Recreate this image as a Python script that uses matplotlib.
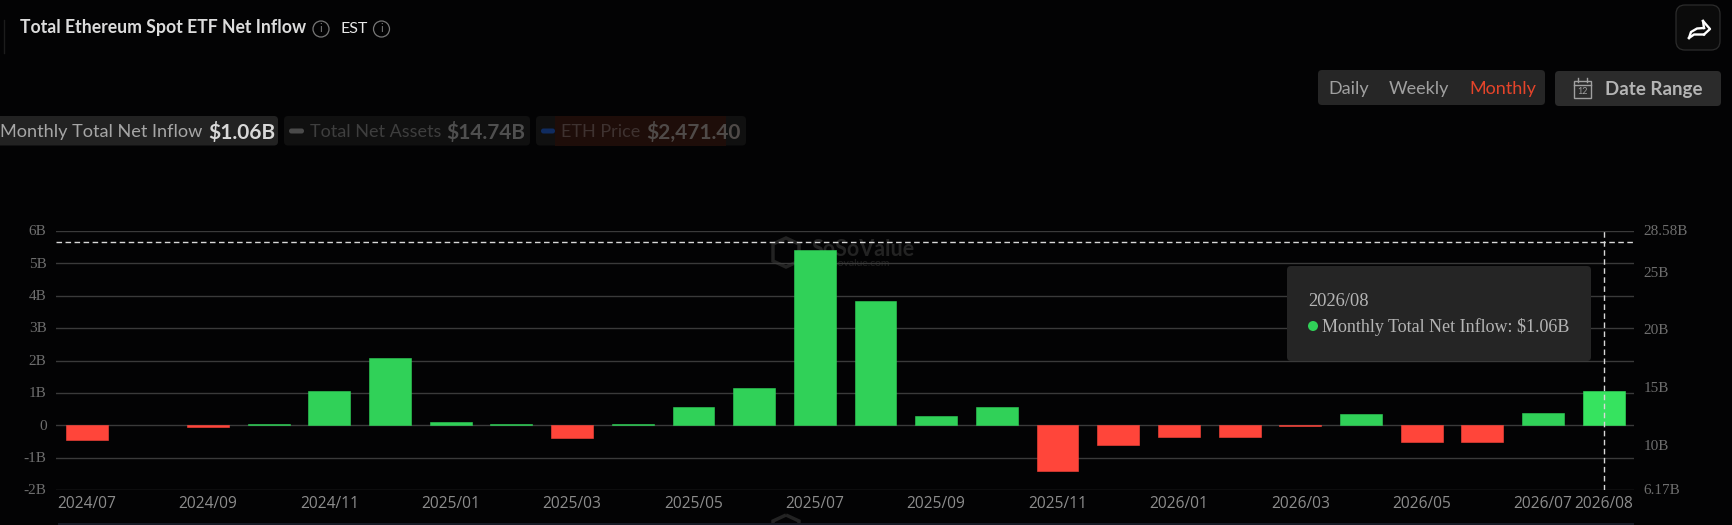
import numpy as np
import matplotlib
matplotlib.use("Agg")
import matplotlib.pyplot as plt
from matplotlib.patches import FancyBboxPatch, Circle, Rectangle, Polygon
from matplotlib.transforms import ScaledTranslation

W, H = 1732, 525

months = ["2024/07", "2024/08", "2024/09", "2024/10", "2024/11", "2024/12",
          "2025/01", "2025/02", "2025/03", "2025/04", "2025/05", "2025/06",
          "2025/07", "2025/08", "2025/09", "2025/10", "2025/11", "2025/12",
          "2026/01", "2026/02", "2026/03", "2026/04", "2026/05", "2026/06",
          "2026/07", "2026/08"]
inflow = [-0.47, 0.01, -0.04, 0.04, 1.05, 2.08, 0.10, 0.05, -0.39, 0.05, 0.56, 1.15,
          5.40, 3.84, 0.28, 0.56, -1.41, -0.60, -0.35, -0.37, -0.03, 0.36, -0.53,
          -0.52, 0.37, 1.06]
shown_months = ["2024/07", "2024/09", "2024/11", "2025/01", "2025/03", "2025/05",
                "2025/07", "2025/09", "2025/11", "2026/01", "2026/03", "2026/05",
                "2026/07", "2026/08"]
left_ticks = [-2, -1, 0, 1, 2, 3, 4, 5, 6]
left_labels = ["-2B", "-1B", "0", "1B", "2B", "3B", "4B", "5B", "6B"]
right_ticks = [6.17, 10, 15, 20, 25, 28.58]
right_labels = ["6.17B", "10B", "15B", "20B", "25B", "28.58B"]
hover_level = 5.67

BG = "#030304"
GREEN = "#30D158"
HOVER_GREEN = "#36E35F"
RED = "#FF453A"
GRID = "#3a3a3a"
MARK = "#232323"


def box(ax, x0, y0, x1, y1, color, r=4, **kw):
    p = FancyBboxPatch((x0 + r, y0 + r), x1 - x0 - 2 * r, y1 - y0 - 2 * r,
                       boxstyle="round,pad=%g,rounding_size=%g" % (r, r),
                       fc=color, ec="none", **kw)
    ax.add_patch(p)
    return p


def watermark_icon(ax, dy):
    ax.add_patch(Polygon([(786, 238 + dy), (799, 244 + dy), (799, 261 + dy), (786, 267 + dy),
                          (773, 261 + dy), (773, 244 + dy)], fc="none", ec=MARK, lw=2.5))


fig = plt.figure(figsize=(W / 100, H / 100), dpi=100, facecolor=BG)

# watermark sits behind the bars
back = fig.add_axes([0, 0, 1, 1], zorder=-1)
back.set_xlim(0, W)
back.set_ylim(H, 0)
back.axis("off")
watermark_icon(back, 0)
back.text(812, 249, "SoSoValue", family="Lato", weight="bold", fontsize=15.5, color=MARK, va="center")
back.text(824, 263, "sosovalue.com", family="Lato", fontsize=7.5, color=MARK, va="center")
watermark_icon(back, 277)

# chart area
left, right, top, bottom = 56.3, 1634, 231, 490
ax = fig.add_axes([left / W, 1 - bottom / H, (right - left) / W, (bottom - top) / H], zorder=1)
ax.set_facecolor("none")
x = np.arange(len(months))
colors = [GREEN if v >= 0 else RED for v in inflow]
colors[-1] = HOVER_GREEN
edges = [0.4 if abs(v) > 0.02 else 0 for v in inflow]
ax.set_axisbelow(True)
ax.grid(axis="y", color=GRID, lw=1)
ax.bar(x, inflow, width=0.69, color=colors, edgecolor=colors, linewidth=edges, joinstyle="round", zorder=3)
ax.axhline(hover_level, color="#d8d8d8", lw=1, dashes=(4, 2.5), zorder=4)
ax.axvline(x[-1], color="#d8d8d8", lw=1, dashes=(4, 2.5), zorder=4)
ax.set_xlim(-0.5, len(months) - 0.5)
ax.set_ylim(-2, 6)
ax.set_yticks(left_ticks)
ax.set_yticklabels(left_labels, family="Liberation Serif", fontsize=11, color="#6e6e6e")
ax.set_xticks([months.index(m) for m in shown_months])
ax.set_xticklabels(shown_months, family="Open Sans", fontsize=11.2, color="#8c8c8c")
ax.tick_params(axis="x", length=0, pad=4.5)
ax.tick_params(axis="y", length=0, pad=7)
for s in ax.spines.values():
    s.set_visible(False)

ax2 = ax.twinx()
ax2.set_ylim(6.17, 28.58)
ax2.set_yticks(right_ticks)
ax2.set_yticklabels(right_labels, family="Liberation Serif", fontsize=11, color="#6e6e6e")
ax2.tick_params(length=0, pad=7)
for s in ax2.spines.values():
    s.set_visible(False)

# y labels ride a little above their grid lines
lift = ScaledTranslation(0, 0.7 / 100, fig.dpi_scale_trans)
for lab in ax.get_yticklabels() + ax2.get_yticklabels():
    lab.set_transform(lab.get_transform() + lift)

# page furniture, in pixel coordinates
ov = fig.add_axes([0, 0, 1, 1], zorder=5)
ov.set_xlim(0, W)
ov.set_ylim(H, 0)
ov.axis("off")
ov.patch.set_alpha(0)

ui = "Lato"
ov.plot([4, 4], [20, 53], color="#1c1c1c", lw=1)
ov.text(20, 28, "Total Ethereum Spot ETF Net Inflow", family=ui, weight="bold", fontsize=12.7,
        color="#dcdcdc", va="center")
ov.text(341, 29, "EST", family=ui, fontsize=11.5, color="#e8e8e8", va="center")
for cx in (321, 381.5):
    ov.add_patch(Circle((cx, 29), 8, fc="none", ec="#777777", lw=0.9))
    ov.text(cx, 29, "i", family=ui, fontsize=8, color="#777777", ha="center", va="center")

# share button
box(ov, 1676, 5, 1720, 50, "#0b0b0b", r=9)
ov.add_patch(FancyBboxPatch((1680, 9), 36, 37, boxstyle="round,pad=4,rounding_size=9",
                            fc="none", ec="#2c2c2c", lw=0.9))
ov.plot([1689, 1691, 1697, 1704], [38, 32, 28.5, 28], color="white", lw=1.7)
ov.plot([1689, 1694, 1704], [38, 34.5, 34.5], color="white", lw=1.7)
ov.plot([1704, 1710, 1703], [34.5, 29, 21], color="white", lw=1.7)
ov.plot([1703, 1704], [21, 28], color="white", lw=1.7)

# period switch and date range
box(ov, 1318, 70, 1545, 105, "#262626", r=4)
box(ov, 1555, 71, 1721, 106, "#2b2b2b", r=4)
ov.text(1328, 89, "Daily", family=ui, fontsize=13, color="#a0a0a0", va="center")
ov.text(1389, 89, "Weekly", family=ui, fontsize=13, color="#a0a0a0", va="center")
ov.text(1469, 89, "Monthly", family=ui, fontsize=13, color="#E5442A", va="center")
ov.text(1605, 89, "Date Range", family=ui, weight="bold", fontsize=13.5, color="#b4b4b4", va="center")
ov.add_patch(Rectangle((1574, 81), 17, 16.5, fc="none", ec="#a0a0a0", lw=1))
ov.plot([1574, 1591], [85, 85], color="#a0a0a0", lw=1)
ov.plot([1578, 1578], [78, 82], color="#a0a0a0", lw=1)
ov.plot([1587, 1587], [78, 82], color="#a0a0a0", lw=1)
ov.text(1582.5, 91.5, "12", family=ui, fontsize=6.5, color="#a0a0a0", ha="center", va="center")

# legend chips
box(ov, -6, 116, 278, 145.5, "#222222", r=4)
ov.text(0, 132, "Monthly Total Net Inflow", family=ui, fontsize=13.1, color="#a6a6a6", va="center")
ov.text(208, 132, "$1.06B", family=ui, weight="bold", fontsize=15, color="#d8d8d8", va="center")
box(ov, 284, 116, 530, 145.5, "#101010", r=4)
box(ov, 289, 128.5, 304, 133.5, "#4a4a4a", r=2.4)
ov.text(310, 132, "Total Net Assets", family=ui, fontsize=13, color="#3e3e3e", va="center")
ov.text(446, 132, "$14.74B", family=ui, weight="bold", fontsize=15, color="#4f4f4f", va="center")
box(ov, 536, 116, 746, 145.5, "#101010", r=4)
ov.add_patch(Rectangle((555, 116), 171, 29.5, fc="#1e0d09", ec="none"))
box(ov, 541, 128.5, 555, 133.5, "#102c60", r=2.4)
ov.text(561, 132, "ETH Price", family=ui, fontsize=13, color="#3e3230", va="center")
ov.text(646, 132, "$2,471.40", family=ui, weight="bold", fontsize=15, color="#4f4a48", va="center")

# tooltip
box(ov, 1287, 266, 1591, 361, "#252525", r=4)
ov.text(1308, 301.5, "2026/08", family="Liberation Serif", fontsize=13.3, color="#b4b4b4", va="center")
ov.add_patch(Circle((1313, 326), 5, fc=GREEN, ec="none"))
ov.text(1322, 327, "Monthly Total Net Inflow: $1.06B", family="Liberation Serif", fontsize=13,
        color="#b4b4b4", va="center")

# slider strip at the bottom edge
ov.add_patch(Rectangle((58, 522.5), 1576, 3, fc="#171b26", ec="none"))

fig.savefig("out.png", dpi=100, facecolor=BG)
